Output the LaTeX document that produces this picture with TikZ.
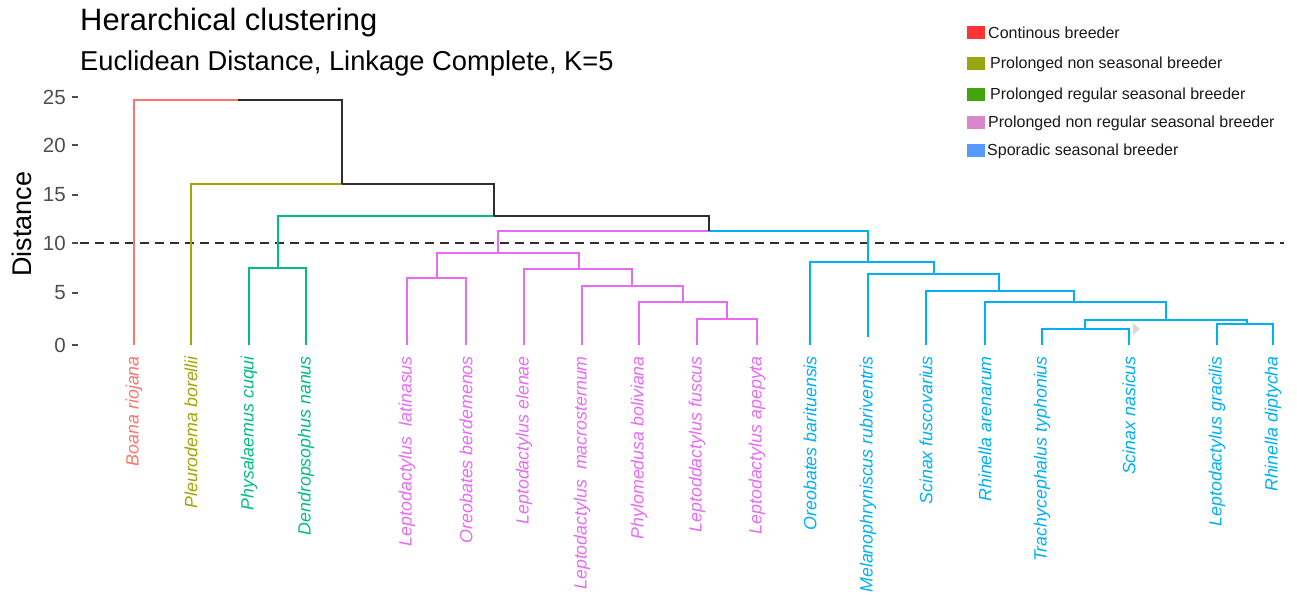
\documentclass[tikz,border=0pt]{standalone}
\usepackage{fontspec}
\setmainfont{Liberation Sans}
\definecolor{cSal}{HTML}{F8766D}
\definecolor{cOli}{HTML}{A3A500}
\definecolor{cGrn}{HTML}{00BF7D}
\definecolor{cPnk}{HTML}{E76BF3}
\definecolor{cBlu}{HTML}{00B0F6}
\definecolor{cBlk}{HTML}{2E2E2E}
\definecolor{cTick}{HTML}{4D4D4D}
\definecolor{lRed}{HTML}{FF3535}
\definecolor{lOli}{HTML}{97A510}
\definecolor{lGrn}{HTML}{43A50C}
\definecolor{lPnk}{HTML}{DA86CC}
\definecolor{lBlu}{HTML}{5599FF}
\tikzset{
  link/.style={line width=2pt, line join=miter},
  leaflab/.style={rotate=90, anchor=east, inner sep=0pt, font=\fontsize{17.8}{17.8}\selectfont\itshape},
  ticklab/.style={anchor=east, inner sep=0pt, text=cTick, font=\fontsize{20.5}{20.5}\selectfont},
  tickmark/.style={cTick, line width=1.6pt},
  legsq/.style={minimum width=18pt, minimum height=13pt, inner sep=0pt, draw=none},
  legtxt/.style={anchor=west, inner sep=0pt, text=black!90, font=\fontsize{16}{16}\selectfont},
}
\begin{document}
\begin{tikzpicture}[x=1pt,y=-1pt]
\useasboundingbox[fill=white] (0,0) rectangle (1297,601);

% titles
\node[anchor=base west, inner sep=0pt, font=\fontsize{30.9}{30.9}\selectfont] (title) at (80,31) {Herarchical clustering};
\node[anchor=base west, inner sep=0pt, font=\fontsize{27.3}{27.3}\selectfont] (subtitle) at (80,71) {Euclidean Distance, Linkage Complete, K=5};
\node[rotate=90, inner sep=0pt, font=\fontsize{27}{27}\selectfont] (ylab) at (22,224) {Distance};

% y axis ticks
\foreach \v/\yy in {25/97,20/145,15/195,10/243,5/293,0/345}{
  \node[ticklab] (t\v) at (66,\yy) {\v};
  \coordinate (ta\v) at (72,\yy);
  \coordinate (tb\v) at (78,\yy);
  \draw[tickmark] (ta\v) -- (tb\v);
}

% cut line
\coordinate (cutA) at (80,243);
\coordinate (cutB) at (1284,243);
\draw[cBlk, line width=1.8pt, dash pattern=on 9pt off 6pt] (cutA) -- (cutB);

% leaves
\coordinate (l1) at (134,345);
\coordinate (l2) at (191,345);
\coordinate (l3) at (249,345);
\coordinate (l4) at (306,345);
\coordinate (l5) at (407,345);
\coordinate (l6) at (466,345);
\coordinate (l7) at (524,345);
\coordinate (l8) at (582,345);
\coordinate (l9) at (639,345);
\coordinate (l10) at (697,345);
\coordinate (l11) at (757,345);
\coordinate (l12) at (810,345);
\coordinate (l13) at (868,337);
\coordinate (l14) at (926,345);
\coordinate (l15) at (985,345);
\coordinate (l16) at (1042,345);
\coordinate (l17) at (1129,345);
\coordinate (l18) at (1217,345);
\coordinate (l19) at (1273,345);

% merge points
\coordinate (g1) at (278,268);
\coordinate (p1) at (437,278);
\coordinate (p5) at (727,319);
\coordinate (p4) at (683,302);
\coordinate (p3) at (632,286);
\coordinate (p2) at (579,269);
\coordinate (p6) at (498,253);
\coordinate (b1) at (1085,329);
\coordinate (b2) at (1247,324);
\coordinate (b3) at (1166,320);
\coordinate (b4) at (1074,302);
\coordinate (b5) at (999,291);
\coordinate (b6) at (934,274);
\coordinate (b7) at (868,262);
\coordinate (pb) at (709,231);
\coordinate (gg) at (494,216);
\coordinate (oo) at (342,184);
\coordinate (root) at (238,100);

% green cluster
\draw[link, cGrn] (l3) |- (g1);
\draw[link, cGrn] (l4) |- (g1);
% pink cluster
\draw[link, cPnk] (l5) |- (p1);
\draw[link, cPnk] (l6) |- (p1);
\draw[link, cPnk] (l10) |- (p5);
\draw[link, cPnk] (l11) |- (p5);
\draw[link, cPnk] (l9) |- (p4);
\draw[link, cPnk] (p5) |- (p4);
\draw[link, cPnk] (l8) |- (p3);
\draw[link, cPnk] (p4) |- (p3);
\draw[link, cPnk] (l7) |- (p2);
\draw[link, cPnk] (p3) |- (p2);
\draw[link, cPnk] (p1) |- (p6);
\draw[link, cPnk] (p2) |- (p6);
% blue cluster
\draw[link, cBlu] (l16) |- (b1);
\draw[link, cBlu] (l17) |- (b1);
\draw[link, cBlu] (l18) |- (b2);
\draw[link, cBlu] (l19) |- (b2);
\draw[link, cBlu] (b1) |- (b3);
\draw[link, cBlu] (b2) |- (b3);
\draw[link, cBlu] (l15) |- (b4);
\draw[link, cBlu] (b3) |- (b4);
\draw[link, cBlu] (l14) |- (b5);
\draw[link, cBlu] (b4) |- (b5);
\draw[link, cBlu] (l13) |- (b6);
\draw[link, cBlu] (b5) |- (b6);
\draw[link, cBlu] (l12) |- (b7);
\draw[link, cBlu] (b6) |- (b7);
% upper links
\draw[link, cPnk] (p6) |- (pb);
\draw[link, cBlu] (b7) |- (pb);
\draw[link, cGrn] (g1) |- (gg);
\draw[link, cBlk] (pb) |- (gg);
\draw[link, cOli] (l2) |- (oo);
\draw[link, cBlk] (gg) |- (oo);
\draw[link, cSal] (l1) |- (root);
\draw[link, cBlk] (oo) |- (root);

% stray marker
\fill[black!15] (1133,323) -- (1140,329) -- (1133,335) -- cycle;

% leaf labels
\node[leaflab, text=cSal] (n1) at (134,356) {Boana riojana};
\node[leaflab, text=cOli] (n2) at (191,356) {Pleurodema borellii};
\node[leaflab, text=cGrn] (n3) at (249,356) {Physalaemus cuqui};
\node[leaflab, text=cGrn] (n4) at (306,356) {Dendropsophus nanus};
\node[leaflab, text=cPnk] (n5) at (407,356) {Leptodactylus\ \ latinasus};
\node[leaflab, text=cPnk] (n6) at (466,356) {Oreobates berdemenos};
\node[leaflab, text=cPnk] (n7) at (524,356) {Leptodactylus elenae};
\node[leaflab, text=cPnk] (n8) at (582,356) {Leptodactylus\ \ macrosternum};
\node[leaflab, text=cPnk] (n9) at (639,356) {Phylomedusa boliviana};
\node[leaflab, text=cPnk] (n10) at (697,356) {Leptoddactylus fuscus};
\node[leaflab, text=cPnk] (n11) at (757,356) {Leptodactylus apepyta};
\node[leaflab, text=cBlu] (n12) at (810,356) {Oreobates barituensis};
\node[leaflab, text=cBlu] (n13) at (868,356) {Melanophryniscus rubriventris};
\node[leaflab, text=cBlu] (n14) at (926,356) {Scinax fuscovarius};
\node[leaflab, text=cBlu] (n15) at (985,356) {Rhinella arenarum};
\node[leaflab, text=cBlu] (n16) at (1042,356) {Trachycephalus typhonius};
\node[leaflab, text=cBlu] (n17) at (1129,356) {Scinax nasicus};
\node[leaflab, text=cBlu] (n18) at (1217,356) {Leptodactylus gracilis};
\node[leaflab, text=cBlu] (n19) at (1273,356) {Rhinella diptycha};

% legend
\node[legsq, fill=lRed] (s1) at (976,33) {};
\node[legsq, fill=lOli] (s2) at (976,64) {};
\node[legsq, fill=lGrn] (s3) at (976,95) {};
\node[legsq, fill=lPnk] (s4) at (976,123) {};
\node[legsq, fill=lBlu] (s5) at (976,151) {};
\node[legtxt] (e1) at (988,33) {Continous breeder};
\node[legtxt] (e2) at (990,64) {Prolonged non seasonal breeder};
\node[legtxt] (e3) at (990,95) {Prolonged regular seasonal breeder};
\node[legtxt] (e4) at (988,123) {Prolonged non regular seasonal breeder};
\node[legtxt] (e5) at (987,151) {Sporadic seasonal breeder};
\end{tikzpicture}
\end{document}
